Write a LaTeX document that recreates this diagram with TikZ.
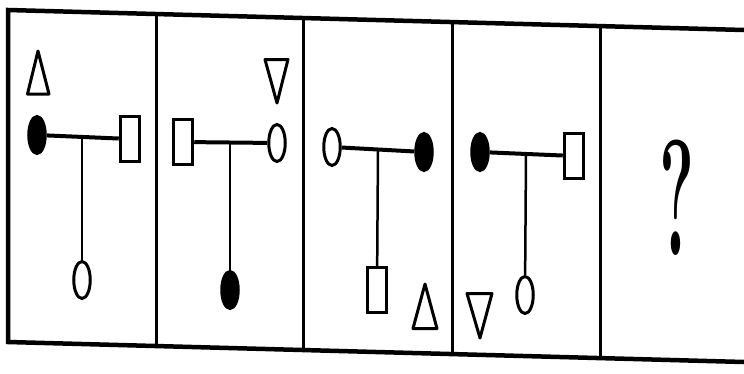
\documentclass[tikz,border=0pt]{standalone}
\usetikzlibrary{shapes.geometric}
\tikzset{ring node/.style={ellipse,draw,line width=3pt,minimum width=16.5pt,minimum height=37pt,inner sep=0pt},
  dot node/.style={ring node,fill=black},
  box node/.style={rectangle,draw,line width=3pt,minimum width=19.5pt,minimum height=45pt,inner sep=0pt},
  bar line/.style={line width=4pt},
  stem line/.style={line width=2.5pt},
  tri line/.style={line width=3pt,line join=round},
  frame line/.style={line width=4.5pt} }

\begin{document}
\begin{tikzpicture}[x=1pt,y=-1pt]
\useasboundingbox (0,0) rectangle (744,373);

  % frame and dividers
  \draw[frame line] (744,30) -- (8,10) -- (8,342) -- (744,362);
  \foreach \x in {156,303,452,600}
    \draw[line width=3pt] (\x,{10+0.027*(\x-8)}) -- (\x,{342+0.027*(\x-8)});

  % panel 1
  \draw[tri line] (38,51) -- (27.5,94) -- (49,94) -- cycle;
  \node[dot node] (f1) at (37,135) {};
  \node[box node] (b1) at (130,139) {};
  \node[ring node] (r1) at (82,280) {};
  \coordinate (j1) at (82,137);
  \draw[bar line] (f1) -- (b1);
  \draw[stem line] (j1) -- (r1);

  % panel 2
  \draw[tri line] (265,59.5) -- (288,59.5) -- (277,103) -- cycle;
  \node[box node] (b2) at (183,142) {};
  \node[ring node] (r2) at (277,143) {};
  \node[dot node] (f2) at (230,290) {};
  \coordinate (j2) at (230,142);
  \draw[bar line] (b2) -- (r2);
  \draw[stem line] (j2) -- (f2);

  % panel 3
  \node[ring node] (r3) at (332,147) {};
  \node[dot node] (f3) at (424,152) {};
  \node[box node] (b3) at (377,290) {};
  \coordinate (j3) at (378,149.5);
  \draw[bar line] (r3) -- (f3);
  \draw[stem line] (j3) -- (b3);
  \draw[tri line] (425,284) -- (413,328.5) -- (437,328.5) -- cycle;

  % panel 4
  \node[dot node] (f4) at (480,152) {};
  \node[box node] (b4) at (574,156) {};
  \node[ring node] (r4) at (525,295) {};
  \coordinate (j4) at (526,154);
  \draw[bar line] (f4) -- (b4);
  \draw[stem line] (j4) -- (r4);
  \draw[tri line] (467,293.5) -- (492,293.5) -- (480,338) -- cycle;

  % panel 5
  \node[font=\fontsize{165}{165}\selectfont\bfseries,xscale=0.4,inner sep=0pt] (q) at (677,198) {?};
\end{tikzpicture}
\end{document}
